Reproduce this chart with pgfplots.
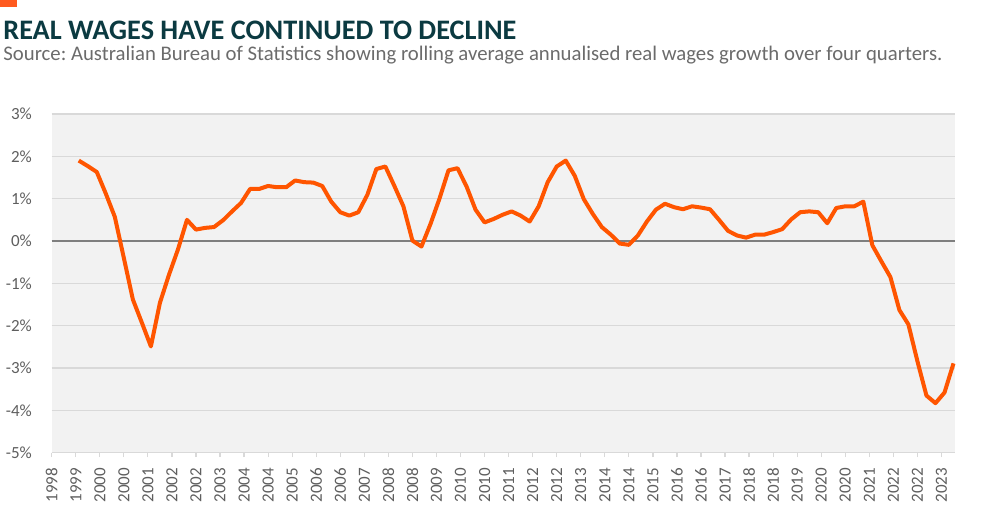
\documentclass[border=0pt]{standalone}
\usepackage{fontspec}
\setmainfont{Carlito}
\usepackage{pgfplots}
\pgfplotsset{compat=1.18}
\definecolor{titlec}{HTML}{0B3A41}
\definecolor{subc}{HTML}{6B6B6B}
\definecolor{tickc}{HTML}{5E5E5E}
\definecolor{linec}{HTML}{FF5500}
\definecolor{topc}{HTML}{FF5A1F}
\definecolor{bgc}{HTML}{F2F2F2}
\definecolor{gridc}{HTML}{D9D9D9}
\definecolor{zeroc}{HTML}{7F7F7F}
\pgfplotstableread{
m v
17 1.90
20 1.77
23 1.63
26 1.12
29 0.57
32 -0.40
35 -1.38
38 -1.93
41 -2.49
44 -1.46
47 -0.80
50 -0.20
53 0.50
56 0.27
59 0.31
62 0.33
65 0.49
68 0.70
71 0.90
74 1.23
77 1.23
80 1.30
83 1.27
86 1.27
89 1.43
92 1.39
95 1.38
98 1.30
101 0.93
104 0.68
107 0.60
110 0.68
113 1.09
116 1.70
119 1.76
122 1.30
125 0.82
128 0.01
131 -0.13
134 0.40
137 1.00
140 1.67
143 1.72
146 1.29
149 0.74
152 0.44
155 0.52
158 0.62
161 0.70
164 0.60
167 0.46
170 0.82
173 1.39
176 1.76
179 1.90
182 1.54
185 0.99
188 0.64
191 0.33
194 0.15
197 -0.06
200 -0.09
203 0.13
206 0.46
209 0.74
212 0.88
215 0.80
218 0.75
221 0.82
224 0.79
227 0.75
230 0.50
233 0.24
236 0.13
239 0.08
242 0.15
245 0.15
248 0.21
251 0.28
254 0.51
257 0.68
260 0.70
263 0.68
266 0.42
269 0.78
272 0.82
275 0.82
278 0.93
281 -0.10
284 -0.48
287 -0.85
290 -1.63
293 -1.97
296 -2.84
299 -3.65
302 -3.83
305 -3.58
308 -2.89
}\wages
\begin{document}
\frenchspacing
\begin{tikzpicture}
\path[use as bounding box] (0,0) rectangle (500pt,255pt);
\fill[topc] (0,251.65pt) rectangle (8.35pt,255pt);
\node[anchor=base west, inner sep=0pt, text=titlec] at (1.5pt,235.4pt)
  {\resizebox{256.5pt}{!}{\bfseries REAL WAGES HAVE CONTINUED TO DECLINE}};
\node[anchor=base west, inner sep=0pt, text=subc] at (1.5pt,224.6pt)
  {\resizebox{469.5pt}{!}{Source: Australian Bureau of Statistics showing rolling average annualised real wages growth over four quarters.}};
\begin{axis}[
  at={(25.85pt,28.65pt)}, anchor=south west,
  scale only axis, width=451.65pt, height=169.35pt,
  xmin=8, xmax=308.5, ymin=-5, ymax=3,
  axis background/.style={fill=bgc},
  axis x line*=bottom, axis y line*=left,
  x axis line style={draw=gridc, line width=0.6pt, -},
  y axis line style={draw=none},
  ytick={-5,-4,-3,-2,-1,0,1,2,3},
  yticklabels={-5\%,-4\%,-3\%,-2\%,-1\%,0\%,1\%,2\%,3\%},
  ytick style={draw=none},
  ymajorgrids, grid style={draw=gridc, line width=0.6pt},
  extra y ticks={0}, extra y tick labels={},
  extra y tick style={grid style={draw=zeroc, line width=0.6pt}, ytick style={draw=none}},
  xtick={8,16,...,304},
  xticklabels={1998,1999,2000,2000,2001,2002,2002,2003,2004,2004,2005,2006,2006,2007,2008,2008,2009,2010,2010,2011,2012,2012,2013,2014,2014,2015,2016,2016,2017,2018,2018,2019,2020,2020,2021,2022,2022,2023},
  xtick style={draw=gridc, line width=0.6pt},
  tick align=outside, major tick length=2.2pt,
  xticklabel style={rotate=90, anchor=east, inner sep=0pt, font=\fontsize{8.5}{9}\selectfont, text=tickc},
  yticklabel style={anchor=east, inner sep=0pt, font=\fontsize{8.5}{9}\selectfont, text=tickc},
  xticklabel shift=5.3pt, yticklabel shift=7.5pt,
  clip=false,
]
\addplot[color=linec, line width=2pt, line join=round] table[x=m, y=v] {\wages};
\end{axis}
\end{tikzpicture}
\end{document}
